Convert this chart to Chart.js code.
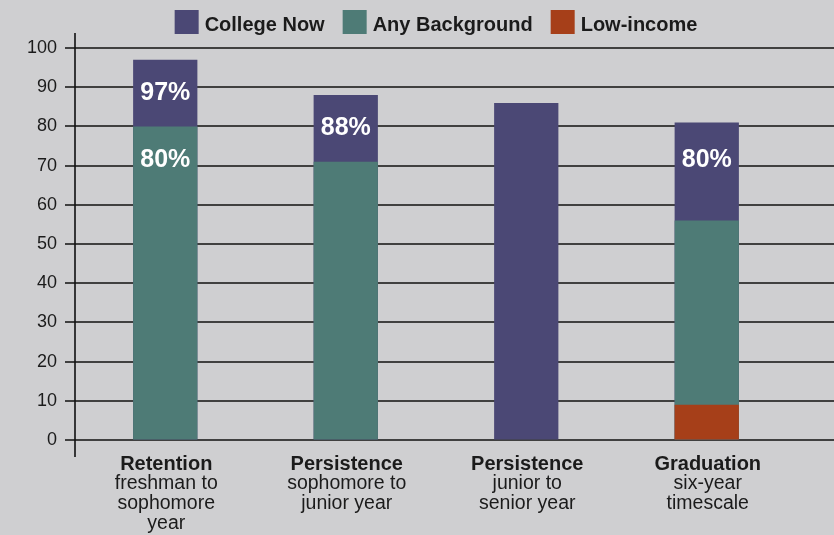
<!DOCTYPE html>
<html>
<head>
<meta charset="utf-8">
<title>College Now</title>
<script src="https://cdn.jsdelivr.net/npm/chart.js@4/dist/chart.umd.min.js"></script>
<style>
    html, body { margin: 0; padding: 0; background: #cfcfd1; }
    #chart { display: block; background: #cfcfd1; }
</style>
</head>
<body>
<canvas id="chart" width="834" height="535"></canvas>
<script>
/*global Chart*/
(function () {
    "use strict";

    // categories: first line is the bold heading
    var categories = [
        ['Retention', 'freshman to', 'sophomore', 'year'],
        ['Persistence', 'sophomore to', 'junior year'],
        ['Persistence', 'junior to', 'senior year'],
        ['Graduation', 'six-year', 'timescale']
    ];
    var seriesNames = ['College Now', 'Any Background', 'Low-income'];
    var collegeNow = [97, 88, 86, 81];
    var anyBackground = [80, 71, null, 56];
    var lowIncome = [null, null, null, 9];
    var collegeNowLabels = ['97%', '88%', '', '80%'];
    var anyBackgroundLabels = ['80%', '', '', ''];
    var yTicks = [0, 10, 20, 30, 40, 50, 60, 70, 80, 90, 100];

    var colors = ['#4b4875', '#4e7b76', '#a63f19'];
    var textColor = '#1b1b1b';
    var font = '"Liberation Sans", Arial, Helvetica, sans-serif';

    // legend drawn by hand so it sits over the plot centre
    var legendPlugin = {
        id: 'customLegend',
        afterDraw: function (chart) {
            var ctx = chart.ctx,
                area = chart.chartArea,
                boxW = 24, gap = 6, spacing = 18,
                widths = [], total = 0, x, i;

            ctx.save();
            ctx.font = 'bold 20px ' + font;
            for (i = 0; i < seriesNames.length; i++) {
                widths.push(ctx.measureText(seriesNames[i]).width);
                total += boxW + gap + widths[i];
            }
            total += spacing * (seriesNames.length - 1);
            x = (area.left + area.right) / 2 - total / 2;
            ctx.textBaseline = 'middle';
            ctx.textAlign = 'left';
            for (i = 0; i < seriesNames.length; i++) {
                ctx.fillStyle = colors[i];
                ctx.fillRect(x, 10, boxW, 24);
                ctx.fillStyle = textColor;
                ctx.fillText(seriesNames[i], x + boxW + gap, 25);
                x += boxW + gap + widths[i] + spacing;
            }
            ctx.restore();
        }
    };

    // grid lines from the tick mark to the page edge, axis line past the plot
    var axisPlugin = {
        id: 'axisExtras',
        beforeDatasetsDraw: function (chart) {
            var ctx = chart.ctx,
                area = chart.chartArea,
                yScale = chart.scales.y;

            ctx.save();
            ctx.strokeStyle = '#111';
            ctx.lineWidth = 1.6;
            yTicks.forEach(function (v) {
                var y = Math.round(yScale.getPixelForValue(v));
                ctx.beginPath();
                ctx.moveTo(area.left - 10, y);
                ctx.lineTo(chart.width, y);
                ctx.stroke();
            });
            ctx.beginPath();
            ctx.moveTo(area.left, 33);
            ctx.lineTo(area.left, 457);
            ctx.stroke();
            ctx.restore();
        }
    };

    var labelPlugin = {
        id: 'valueLabels',
        afterDatasetsDraw: function (chart) {
            var ctx = chart.ctx,
                xScale = chart.scales.x,
                yScale = chart.scales.y,
                sets = [[collegeNow, collegeNowLabels], [anyBackground, anyBackgroundLabels]];

            ctx.save();
            ctx.font = 'bold 25px ' + font;
            ctx.fillStyle = '#ffffff';
            ctx.textAlign = 'center';
            ctx.textBaseline = 'middle';
            sets.forEach(function (s) {
                s[0].forEach(function (v, i) {
                    if (v === null || !s[1][i]) {
                        return;
                    }
                    ctx.fillText(s[1][i], xScale.getPixelForValue(i),
                        yScale.getPixelForValue(parseFloat(s[1][i]) - 8.5));
                });
            });

            // category labels under the axis
            ctx.fillStyle = textColor;
            categories.forEach(function (lines, i) {
                var x = xScale.getPixelForValue(i) + 1;
                lines.forEach(function (line, j) {
                    ctx.font = (j === 0 ? 'bold 20px ' : '19.5px ') + font;
                    ctx.fillText(line, x, 464 + j * 20);
                });
            });
            ctx.restore();
        }
    };

    var ctx = window.document.getElementById('chart');
    new Chart(ctx, {
        type: 'bar',
        data: {
            labels: categories.map(function (c) { return c[0]; }),
            datasets: [{
                label: seriesNames[0],
                data: collegeNow,
                backgroundColor: colors[0],
                order: 2
            }, {
                label: seriesNames[1],
                data: anyBackground,
                backgroundColor: colors[1],
                order: 1
            }, {
                label: seriesNames[2],
                data: lowIncome,
                backgroundColor: colors[2],
                order: 0
            }]
        },
        options: {
            responsive: false,
            animation: false,
            devicePixelRatio: 1,
            barPercentage: 0.356,
            categoryPercentage: 1,
            layout: {
                padding: { top: 48, bottom: 95, left: 0, right: 37 }
            },
            plugins: {
                legend: { display: false },
                tooltip: { enabled: false }
            },
            scales: {
                x: {
                    display: false,
                    stacked: true
                },
                y: {
                    stacked: false,
                    min: 0,
                    max: 100,
                    afterFit: function (scale) { scale.width = 75; },
                    ticks: {
                        stepSize: 10,
                        padding: 18,
                        color: textColor,
                        font: { family: font, size: 18 }
                    },
                    grid: {
                        display: true,
                        drawOnChartArea: false,
                        drawTicks: false
                    },
                    border: { display: false }
                }
            }
        },
        plugins: [axisPlugin, labelPlugin, legendPlugin]
    });
}());
</script>
</body>
</html>
